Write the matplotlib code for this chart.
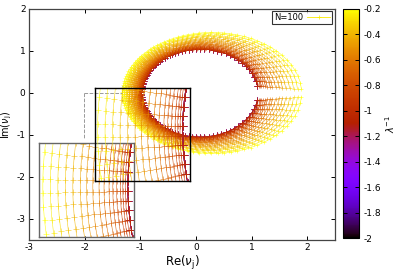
import numpy as np
import matplotlib
matplotlib.use('Agg')
import matplotlib.pyplot as plt
from matplotlib import colors
from matplotlib.patches import Rectangle

plt.rcParams['axes.unicode_minus'] = False

# lambda^-1 of each separate ring (outer yellow -> inner red)
lam_inv = [-0.2, -0.25, -0.3, -0.35, -0.4, -0.45, -0.5, -0.55, -0.6,
           -0.65, -0.7, -0.75, -0.8, -0.85, -0.9, -0.95, -1.0]
# shape of each ring (rings pack together towards the inside)
ring_left = [-1.32, -1.29, -1.26, -1.23, -1.20, -1.17, -1.145, -1.12, -1.095,
             -1.075, -1.055, -1.04, -1.025, -1.01, -1.0, -0.99, -0.98]
ring_right = [1.90, 1.83, 1.76, 1.69, 1.62, 1.56, 1.50, 1.44, 1.38,
              1.34, 1.29, 1.26, 1.22, 1.19, 1.17, 1.14, 1.12]
ring_top = [1.44, 1.41, 1.37, 1.34, 1.30, 1.27, 1.24, 1.21, 1.18,
            1.16, 1.14, 1.12, 1.10, 1.08, 1.07, 1.06, 1.05]
ring_gap = [0.09, 0.097, 0.104, 0.111, 0.118, 0.125, 0.131, 0.137, 0.143,
            0.148, 0.152, 0.156, 0.159, 0.163, 0.165, 0.168, 0.17]
# rings with lambda^-1 < -1 lie on top of the inner ring
lam_inner = [-2.0, -1.8, -1.6, -1.4, -1.2, -1.1]
n_eig = 100

cmap = plt.get_cmap('gnuplot')
norm = colors.Normalize(vmin=-2, vmax=-0.2)


def ring(i):
    c = (ring_left[i] + ring_right[i]) / 2
    a = (ring_right[i] - ring_left[i]) / 2
    b = ring_top[i]
    t0 = np.arcsin(ring_gap[i] / b)
    u = np.linspace(-1, 1, n_eig)
    t = np.pi + (np.pi - t0) * (0.6 * u + 0.4 * u ** 3)
    return c + a * np.cos(t), b * np.sin(t)


def draw(ax, ms=2.5):
    last = len(lam_inv) - 1
    x, y = ring(last)
    for lam in lam_inner:
        ax.plot(x, y, '-+', color=cmap(norm(lam)), lw=0.45, ms=ms + 1.2,
                mew=0.5, alpha=0.8)
    for i in range(last, -1, -1):
        x, y = ring(i)
        ax.plot(x, y, '-+', color=cmap(norm(lam_inv[i])), lw=0.45, ms=ms,
                mew=0.45, alpha=0.8)


fig = plt.figure(figsize=(4, 2.8), dpi=100)
ax = fig.add_axes([0.0725, 0.143, 0.765, 0.825])
draw(ax)
ax.set_xlim(-3, 2.5)
ax.set_ylim(-3.5, 2)
ax.set_xticks([-3, -2, -1, 0, 1, 2])
ax.set_yticks([-3, -2, -1, 0, 1, 2])
ax.tick_params(direction='in', top=True, right=True, length=3, width=0.7,
               labelsize=6.5, pad=2.5)
for s in ax.spines.values():
    s.set_color('#444444')
    s.set_linewidth(0.9)
ax.set_xlabel(r'Re($\nu_\mathrm{j}$)', fontsize=8.5, labelpad=1)
ax.set_ylabel(r'Im($\nu_\mathrm{j}$)', fontsize=7)
ax.yaxis.set_label_coords(-0.048, 0.5)

# zoom marks
ax.add_patch(Rectangle((-1.33, -0.2), 0.38, 0.37, fill=False, ls=':',
                       ec='#777777', lw=0.8))
ax.plot([-2.01, -1.33], [0.01, 0.01], '--', color='#999999', lw=0.7)
ax.plot([-2.01, -2.01], [0.01, -1.10], '--', color='#999999', lw=0.7)

leg_line, = ax.plot([], [], '-+', color=cmap(0.97), lw=0.6, ms=3, mew=0.5)
leg = ax.legend([leg_line], ['N=100'], loc='upper right',
                bbox_to_anchor=(0.99, 0.99), borderaxespad=0, fontsize=6,
                markerfirst=False, handlelength=2.8, fancybox=False,
                borderpad=0.2, handletextpad=0.5)
leg.get_frame().set_edgecolor('black')
leg.get_frame().set_linewidth(0.8)

# insets
for rect, ec, xl in [([0.0975, 0.1536, 0.2375, 0.336], '#666666', (-1.335, -0.955)),
                     ([0.2375, 0.3536, 0.2375, 0.332], 'black', (-1.33, -0.95))]:
    axi = fig.add_axes(rect)
    axi.patch.set_alpha(0)
    draw(axi, ms=4)
    axi.set_xlim(*xl)
    axi.set_ylim(-0.2, 0.17)
    axi.set_xticks([])
    axi.set_yticks([])
    for s in axi.spines.values():
        s.set_color(ec)
        s.set_linewidth(1.0)

# colorbar
cax = fig.add_axes([0.8575, 0.15, 0.04, 0.818])
sm = plt.cm.ScalarMappable(norm=norm, cmap=cmap)
cb = fig.colorbar(sm, cax=cax, ticks=[-2, -1.8, -1.6, -1.4, -1.2, -1, -0.8,
                                      -0.6, -0.4, -0.2])
cb.ax.set_yticklabels(['-2', '-1.8', '-1.6', '-1.4', '-1.2', '-1', '-0.8',
                       '-0.6', '-0.4', '-0.2'])
cax.tick_params(direction='in', left=True, right=True, length=3, width=0.7,
                labelsize=6.5, pad=3)
cb.outline.set_linewidth(0.8)
cb.set_label(r'$\lambda^{-1}$', fontsize=7, rotation=90, labelpad=2)

fig.savefig('out.png', dpi=100)
